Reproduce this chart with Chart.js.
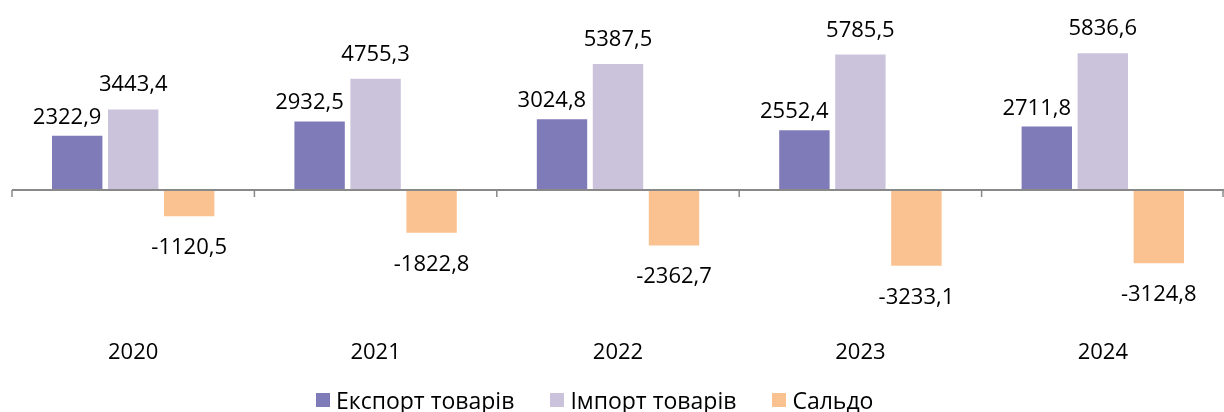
<!DOCTYPE html>
<html>
<head>
<meta charset="utf-8">
<script src="https://cdn.jsdelivr.net/npm/chart.js@4"></script>
<style>
    html, body { margin: 0; padding: 0; background: #fff; }
    #wrap { position: relative; width: 1224px; height: 412px; }
    #legend {
        position: absolute; left: 316px; top: 388px; height: 24px;
        display: flex; align-items: center;
        font-family: "Open Sans", sans-serif; font-size: 23px; color: #000;
    }
    #legend .item { display: flex; align-items: center; margin-right: 36px; }
    #legend .box { width: 14px; height: 14px; margin-right: 6px; }
</style>
</head>
<body>
<div id="wrap">
    <canvas id="myChart" width="1224" height="412"></canvas>
    <div id="legend"></div>
</div>
<script>
// Data
const years = ["2020", "2021", "2022", "2023", "2024"];
const exportGoods = [2322.9, 2932.5, 3024.8, 2552.4, 2711.8];
const importGoods = [3443.4, 4755.3, 5387.5, 5785.5, 5836.6];
const balance = [-1120.5, -1822.8, -2362.7, -3233.1, -3124.8];
const seriesNames = ["Експорт товарів", "Імпорт товарів", "Сальдо"];
const seriesColors = ["#7f7ab8", "#cbc3dc", "#fac191"];

const font = "Open Sans";

function fmt(v) {
    return v.toFixed(1).replace(".", ",");
}

// zero line with tick marks between categories
const zeroAxis = {
    id: "zeroAxis",
    afterDatasetsDraw(chart) {
        const { ctx, chartArea, scales } = chart;
        const y0 = scales.y.getPixelForValue(0);
        ctx.save();
        ctx.strokeStyle = "#898989";
        ctx.lineWidth = 2;
        ctx.beginPath();
        ctx.moveTo(chartArea.left, y0);
        ctx.lineTo(chartArea.right, y0);
        ctx.stroke();
        ctx.lineWidth = 1.5;
        const xs = [chartArea.left];
        for (let i = 1; i < years.length; i++) {
            xs.push((scales.x.getPixelForValue(i - 1) + scales.x.getPixelForValue(i)) / 2);
        }
        xs.push(chartArea.right - 1);
        ctx.beginPath();
        xs.forEach(x => {
            ctx.moveTo(x, y0);
            ctx.lineTo(x, y0 + 7);
        });
        ctx.stroke();
        ctx.restore();
    }
};

// value labels
const valueLabels = {
    id: "valueLabels",
    afterDraw(chart) {
        const { ctx } = chart;
        ctx.save();
        ctx.font = "22px '" + font + "'";
        ctx.fillStyle = "#000";
        ctx.textBaseline = "alphabetic";
        chart.data.datasets.forEach((ds, di) => {
            const meta = chart.getDatasetMeta(di);
            meta.data.forEach((bar, i) => {
                const v = ds.data[i];
                if (di === 0) {
                    ctx.textAlign = "right";
                    ctx.fillText(fmt(v), bar.x + bar.width / 2 - 1, bar.y - 12);
                } else if (di === 1) {
                    ctx.textAlign = "center";
                    ctx.fillText(fmt(v), bar.x, bar.y - 18);
                } else {
                    ctx.textAlign = "center";
                    ctx.fillText(fmt(v), bar.x, bar.y + 38);
                }
            });
        });
        ctx.restore();
    }
};

const ctx = document.getElementById("myChart").getContext("2d");
const myChart = new Chart(ctx, {
    type: "bar",
    data: {
        labels: years,
        datasets: [
            { label: seriesNames[0], data: exportGoods, backgroundColor: seriesColors[0] },
            { label: seriesNames[1], data: importGoods, backgroundColor: seriesColors[1] },
            { label: seriesNames[2], data: balance, backgroundColor: seriesColors[2] }
        ]
    },
    options: {
        responsive: false,
        animation: false,
        layout: {
            padding: { top: 2.7, left: 12, right: 0, bottom: 37 }
        },
        datasets: {
            bar: {
                categoryPercentage: 0.693,
                barPercentage: 0.9
            }
        },
        plugins: {
            legend: { display: false },
            tooltip: { enabled: false }
        },
        scales: {
            x: {
                grid: { display: false, drawTicks: false },
                border: { display: false },
                ticks: {
                    color: "#000",
                    padding: 9,
                    font: { family: font, size: 22 }
                }
            },
            y: {
                display: false,
                min: -6000,
                max: 8000
            }
        }
    },
    plugins: [zeroAxis, valueLabels]
});

// html legend
const legendEl = document.getElementById("legend");
seriesNames.forEach((name, i) => {
    const item = document.createElement("div");
    item.className = "item";
    const box = document.createElement("span");
    box.className = "box";
    box.style.background = seriesColors[i];
    const txt = document.createElement("span");
    txt.textContent = name;
    item.appendChild(box);
    item.appendChild(txt);
    legendEl.appendChild(item);
});
</script>
</body>
</html>
